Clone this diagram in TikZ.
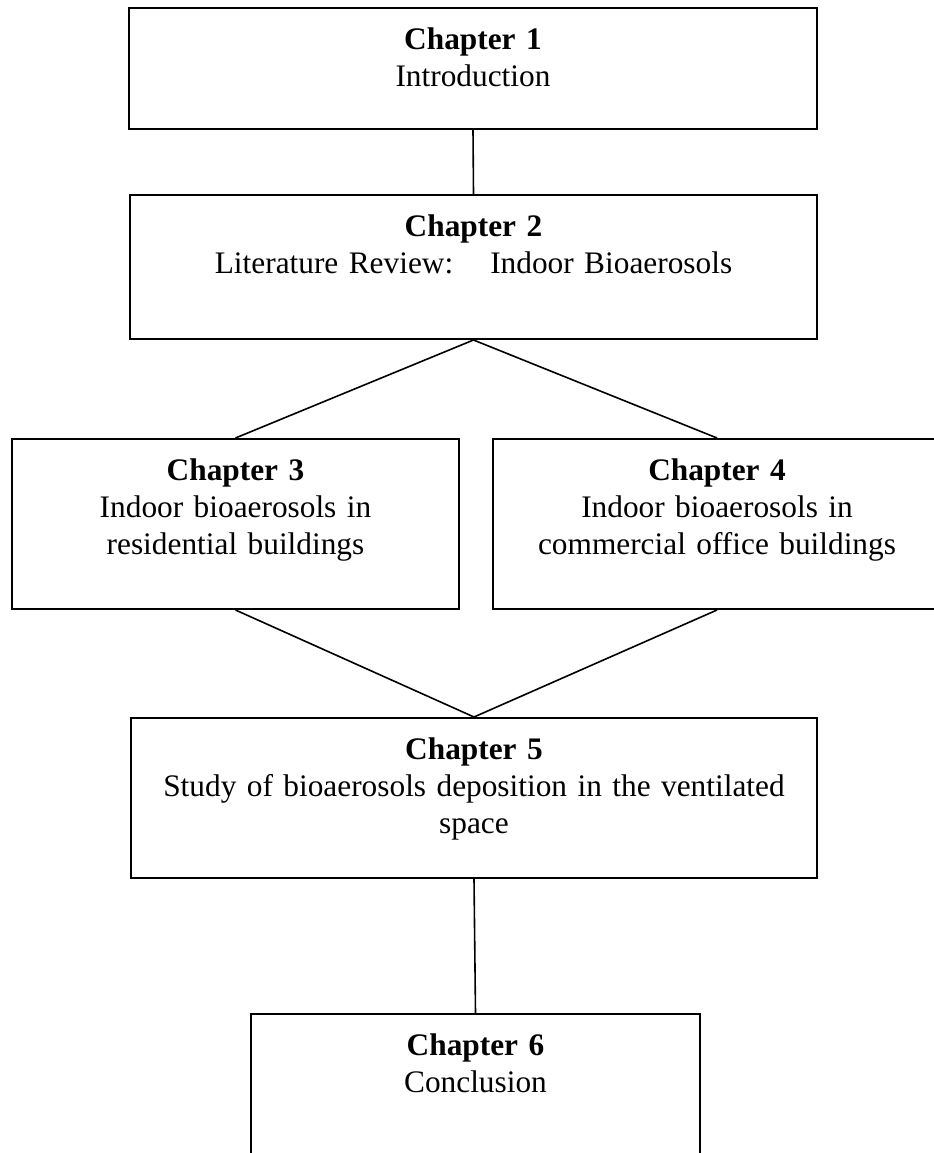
\documentclass[tikz,border=0pt]{standalone}
\usepackage{fontspec}
\setmainfont{Liberation Serif}

\begin{document}
\begin{tikzpicture}[x=0.75pt, y=-0.75pt,
    chapter/.style={draw, line width=1.5pt, anchor=north, inner sep=0pt, align=center,
      font=\fontsize{23.5}{27.75}\selectfont, text height=30.75pt},
    link/.style={line width=1.2pt}]
  \useasboundingbox (0, 0) rectangle (934, 1153);
  \node[chapter, text width=516pt, text depth=60pt] (ch1) at (473, 7)
    {\textbf{Chapter 1}\\Introduction};
  \node[chapter, text width=515.25pt, text depth=77.25pt] (ch2) at (473.5, 194)
    {\textbf{Chapter 2}\\Literature Review:\hspace{27.75pt}Indoor Bioaerosols};
  \node[chapter, text width=335.25pt, text depth=96.75pt] (ch3) at (235.5, 438)
    {\textbf{Chapter 3}\\Indoor bioaerosols in\\residential buildings};
  \node[chapter, text width=336pt, text depth=96.75pt] (ch4) at (717, 438)
    {\textbf{Chapter 4}\\Indoor bioaerosols in\\commercial office buildings};
  \node[chapter, text width=514.5pt, text depth=89.25pt] (ch5) at (474, 717)
    {\textbf{Chapter 5}\\Study of bioaerosols deposition in the ventilated\\space};
  \node[chapter, text width=336.75pt, text depth=96.75pt] (ch6) at (475.5, 1013)
    {\textbf{Chapter 6}\\Conclusion};
  \draw[link] (ch1.south) -- (ch2.north);
  \draw[link] (ch2.south) -- (ch3.north);
  \draw[link] (ch2.south) -- (ch4.north);
  \draw[link] (ch3.south) -- (ch5.north);
  \draw[link] (ch4.south) -- (ch5.north);
  \draw[link] (ch5.south) -- (ch6.north);
\end{tikzpicture}
\end{document}
